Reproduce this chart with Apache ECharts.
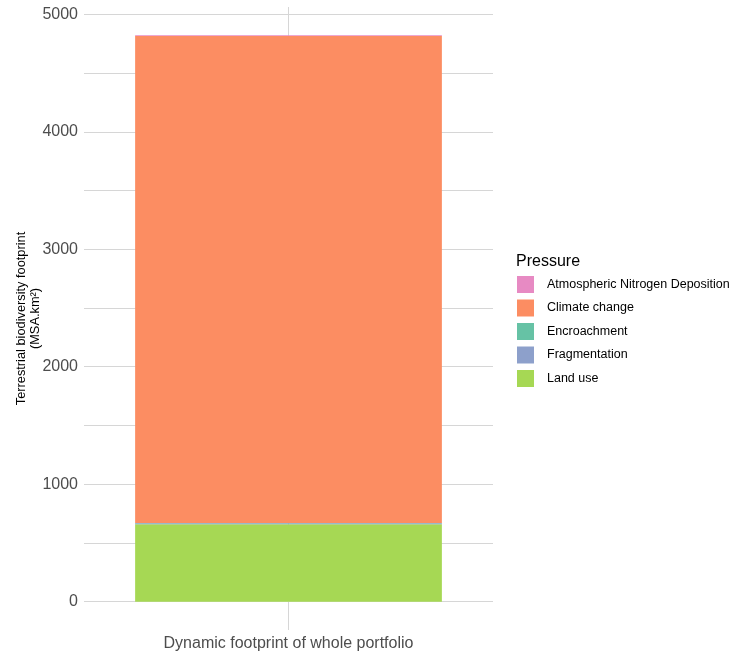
<!DOCTYPE html>
<html><head><meta charset="utf-8">
<script src="https://cdn.jsdelivr.net/npm/echarts@6/dist/echarts.min.js"></script>
<style>html,body{margin:0;padding:0;background:#fff}#c{width:732px;height:656px}</style>
</head><body><div id="c"></div>
<script>
const categories = ['Dynamic footprint of whole portfolio'];
const pressures = ['Atmospheric Nitrogen Deposition','Climate change','Encroachment','Fragmentation','Land use'];
const atmosphericN = [6];
const climateChange = [4146];
const encroachment = [2];
const fragmentation = [8];
const landUse = [659];
const colors = ['#e78ac3','#fc8d62','#66c2a5','#8da0cb','#a6d854'];
const yTickLabels = [0,1000,2000,3000,4000,5000];
const yGrid = [0,500,1000,1500,2000,2500,3000,3500,4000,4500,5000];

const seriesValues = [atmosphericN, climateChange, encroachment, fragmentation, landUse];
const total = seriesValues.reduce((s,a)=>s+a[0],0);

const series = [];
for (let i = pressures.length-1; i >= 0; i--) {
  series.push({
    name:pressures[i],type:'bar',stack:'total',barWidth:'75%',
    xAxisIndex:0,yAxisIndex:0,
    itemStyle:{color:colors[i]},
    data:seriesValues[i]
  });
}

const chart = echarts.init(document.getElementById('c'));
chart.setOption({
  animation:false,
  backgroundColor:'#fff',
  title:{text:'Pressure',left:511,top:249,textStyle:{fontFamily:'Liberation Sans',fontSize:16,fontWeight:'normal',color:'#000'}},
  legend:{
    orient:'vertical',left:512,top:271,itemWidth:17,itemHeight:17,itemGap:6.5,
    data:pressures,icon:'rect',
    textStyle:{fontFamily:'Liberation Sans',fontSize:12.5,color:'#000',padding:[0,0,0,8]}
  },
  grid:{left:84,right:239,top:7,bottom:26,containLabel:false,outerBoundsMode:'none'},
  xAxis:[{
    type:'category',data:categories,boundaryGap:true,
    axisLine:{show:false},axisTick:{show:false},
    axisLabel:{color:'#4d4d4d',fontFamily:'Liberation Sans',fontSize:16,margin:6},
    splitLine:{show:false}
  },{
    type:'value',min:-0.6,max:0.6,position:'bottom',
    axisLine:{show:false},
    axisTick:{show:false,customValues:[0]},
    axisLabel:{show:false},
    splitLine:{show:true,lineStyle:{color:'#d6d6d6',width:1}}
  }],
  yAxis:{
    type:'value',min:-0.05*total,max:1.05*total,
    name:'Terrestrial biodiversity footprint\n(MSA.km²)',
    nameLocation:'middle',nameGap:42,nameMoveOverlap:false,
    nameTextStyle:{fontFamily:'Liberation Sans',fontSize:12.8,color:'#000',lineHeight:14,align:'center'},
    axisLine:{show:false},
    axisTick:{show:false,customValues:yGrid},
    axisLabel:{customValues:yTickLabels,formatter:v=>String(v),color:'#4d4d4d',fontFamily:'Liberation Sans',fontSize:16,margin:6},
    splitLine:{show:true,lineStyle:{color:'#d6d6d6',width:1}}
  },
  series: series
});
</script></body></html>
